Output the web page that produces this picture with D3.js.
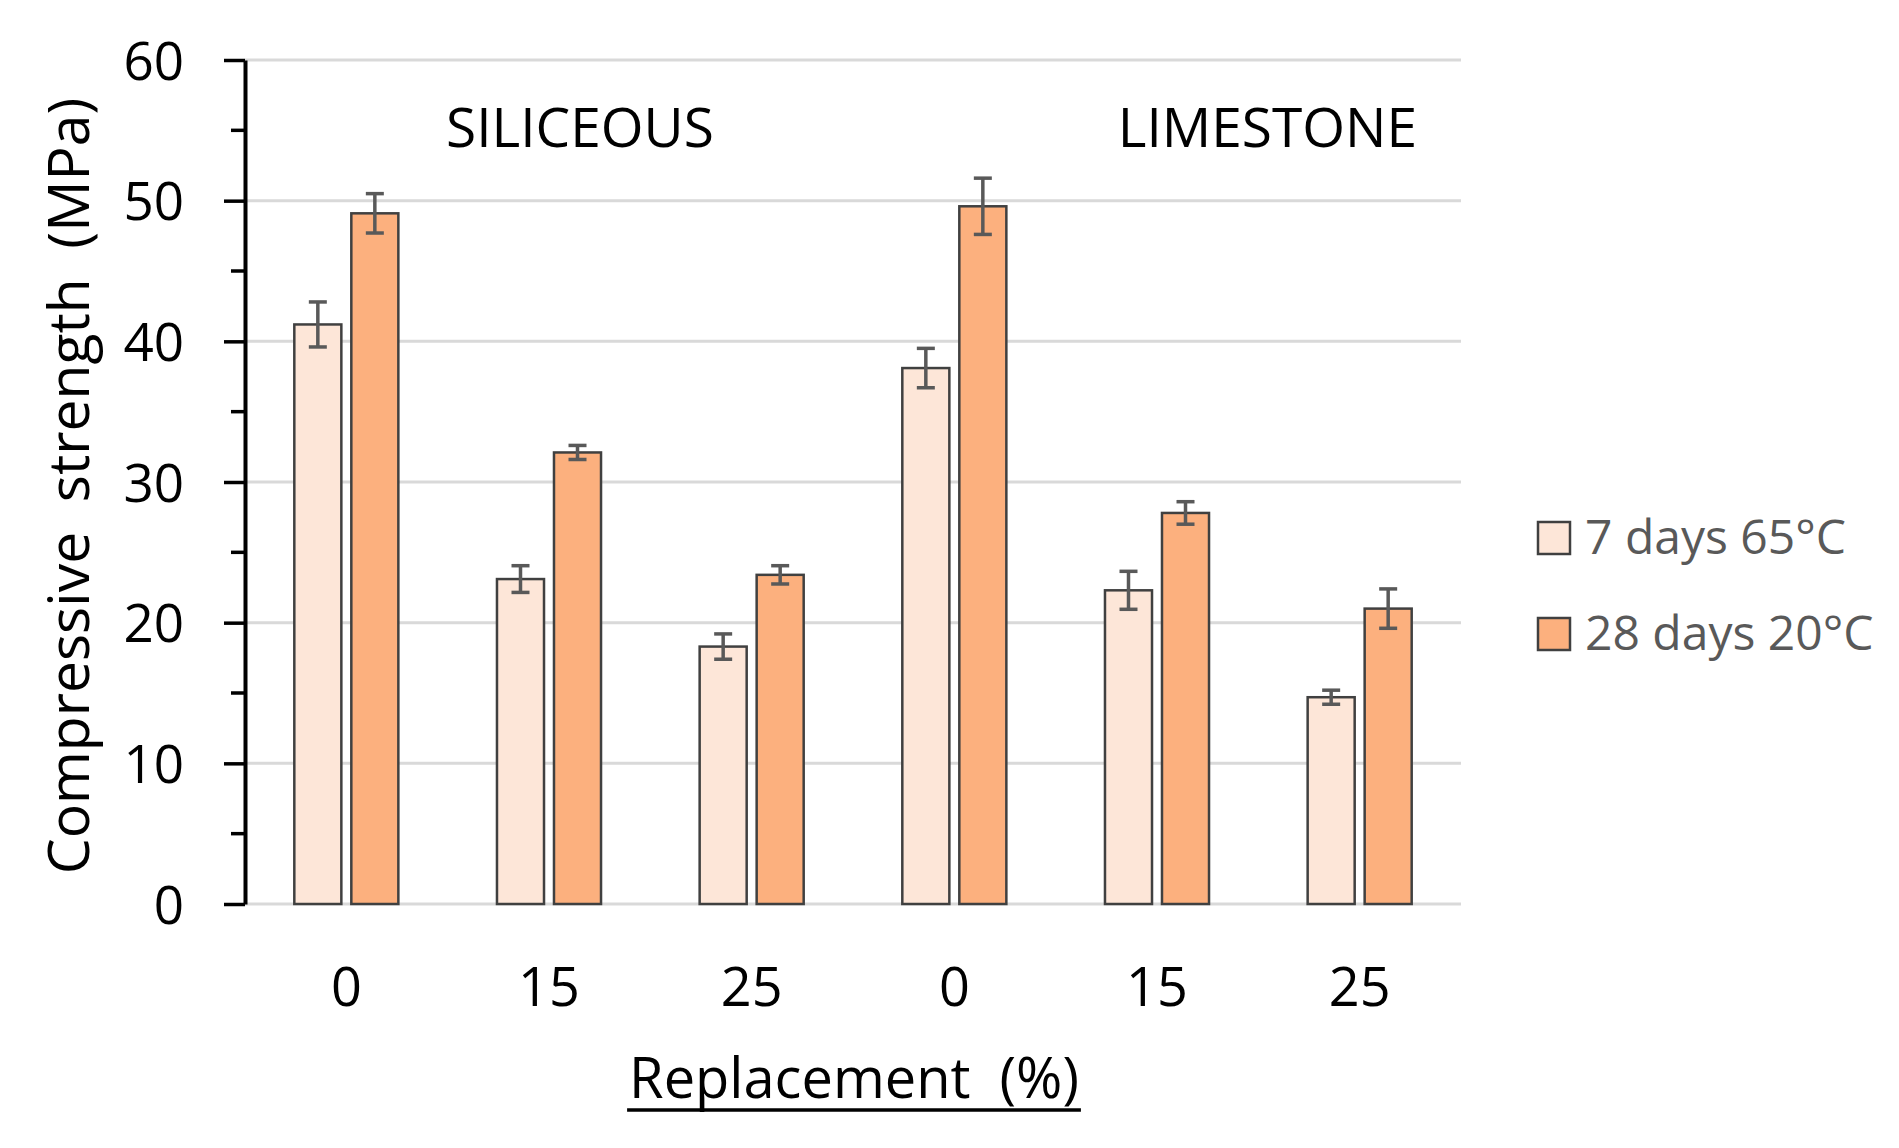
<!DOCTYPE html>
<html>
<head>
<meta charset="utf-8">
<script src="https://cdn.jsdelivr.net/npm/d3@7"></script>
<style>
  body { margin: 0; background: #fff; }
  text { font-family: "Open Sans", sans-serif; }
</style>
</head>
<body>
<div id="chart"></div>
<script>
// categories on the x axis (two aggregate types x three replacement levels)
const categories = ["SIL-0", "SIL-15", "SIL-25", "LIM-0", "LIM-15", "LIM-25"];
const tickLabels = ["0", "15", "25", "0", "15", "25"];
const groupLabels = ["SILICEOUS", "LIMESTONE"];
const series = ["7 days 65°C", "28 days 20°C"];

// compressive strength (MPa) and error bars
const values7d = [41.2, 23.1, 18.3, 38.1, 22.3, 14.7];
const errors7d = [1.6, 0.95, 0.9, 1.4, 1.35, 0.5];
const values28d = [49.1, 32.1, 23.4, 49.6, 27.8, 21.0];
const errors28d = [1.4, 0.5, 0.65, 2.0, 0.8, 1.4];

const yTicks = [0, 10, 20, 30, 40, 50, 60];
const colors = ["#fde6d8", "#fcb07e"];

const width = 1899, height = 1148;
const plot = { left: 245, right: 1461, top: 60, bottom: 904 };

const svg = d3.select("#chart").append("svg")
    .attr("width", width)
    .attr("height", height);

svg.append("rect").attr("width", width).attr("height", height).attr("fill", "#fff");

const x0 = d3.scaleBand()
    .domain(categories)
    .range([plot.left, plot.right])
    .padding(0);

const x1 = d3.scaleBand()
    .domain(series)
    .range([0, x0.bandwidth()])
    .paddingInner(0.175)
    .paddingOuter(0.865);

const y = d3.scaleLinear()
    .domain([0, 60])
    .range([plot.bottom, plot.top]);

// --- gridlines ---
svg.append("g")
    .selectAll("line")
    .data(yTicks)
    .join("line")
    .attr("x1", plot.left)
    .attr("x2", plot.right)
    .attr("y1", d => y(d))
    .attr("y2", d => y(d))
    .attr("stroke", "#d9d9d9")
    .attr("stroke-width", 3);

// --- bars ---
const rows = categories.map((c, i) => ({
  cat: c,
  items: [
    { s: series[0], v: values7d[i], e: errors7d[i], color: colors[0] },
    { s: series[1], v: values28d[i], e: errors28d[i], color: colors[1] }
  ]
}));

const grp = svg.append("g")
    .selectAll("g")
    .data(rows)
    .join("g")
    .attr("transform", d => `translate(${x0(d.cat)},0)`);

grp.selectAll("rect")
    .data(d => d.items)
    .join("rect")
    .attr("x", d => x1(d.s))
    .attr("width", x1.bandwidth())
    .attr("y", d => y(d.v))
    .attr("height", d => y(0) - y(d.v))
    .attr("fill", d => d.color)
    .attr("stroke", "#404040")
    .attr("stroke-width", 2.5);

// --- error bars ---
const capW = 9;
const eb = grp.selectAll("g.err")
    .data(d => d.items)
    .join("g")
    .attr("class", "err")
    .attr("stroke", "#595959")
    .attr("stroke-width", 3.5);

eb.append("line")
    .attr("x1", d => x1(d.s) + x1.bandwidth() / 2)
    .attr("x2", d => x1(d.s) + x1.bandwidth() / 2)
    .attr("y1", d => y(d.v + d.e))
    .attr("y2", d => y(d.v - d.e));
eb.append("line")
    .attr("x1", d => x1(d.s) + x1.bandwidth() / 2 - capW)
    .attr("x2", d => x1(d.s) + x1.bandwidth() / 2 + capW)
    .attr("y1", d => y(d.v + d.e))
    .attr("y2", d => y(d.v + d.e));
eb.append("line")
    .attr("x1", d => x1(d.s) + x1.bandwidth() / 2 - capW)
    .attr("x2", d => x1(d.s) + x1.bandwidth() / 2 + capW)
    .attr("y1", d => y(d.v - d.e))
    .attr("y2", d => y(d.v - d.e));

// --- y axis ---
const yAxis = svg.append("g")
    .attr("transform", `translate(${plot.left},0)`)
    .call(d3.axisLeft(y).tickValues(yTicks).tickSize(21).tickPadding(40).tickSizeOuter(0));
yAxis.select(".domain").attr("stroke", "#000").attr("stroke-width", 4);
yAxis.selectAll(".tick line").attr("stroke", "#000").attr("stroke-width", 3.5);
yAxis.selectAll(".tick text")
    .attr("fill", "#000")
    .style("font-size", "53px")
    .attr("dy", "0.36em");

// minor ticks every 5
svg.append("g")
    .selectAll("line")
    .data(d3.range(5, 60, 10))
    .join("line")
    .attr("x1", plot.left - 14)
    .attr("x2", plot.left)
    .attr("y1", d => y(d))
    .attr("y2", d => y(d))
    .attr("stroke", "#000")
    .attr("stroke-width", 3.5);

// --- x tick labels ---
svg.append("g")
    .selectAll("text")
    .data(categories)
    .join("text")
    .attr("x", d => x0(d) + x0.bandwidth() / 2)
    .attr("y", 1006)
    .attr("text-anchor", "middle")
    .style("font-size", "54px")
    .attr("fill", "#000")
    .text((d, i) => tickLabels[i]);

// --- group labels ---
svg.append("text")
    .attr("x", 446).attr("y", 147)
    .style("font-size", "55px")
    .attr("fill", "#000")
    .text(groupLabels[0]);
svg.append("text")
    .attr("x", 1417).attr("y", 147)
    .attr("text-anchor", "end")
    .style("font-size", "55px")
    .attr("fill", "#000")
    .text(groupLabels[1]);

// --- axis titles ---
svg.append("text")
    .attr("transform", `translate(89,${(plot.top + plot.bottom) / 2 + 4}) rotate(-90)`)
    .attr("text-anchor", "middle")
    .style("font-size", "57px")
    .style("white-space", "pre")
    .attr("fill", "#000")
    .text("Compressive  strength  (MPa)");

const xTitle = svg.append("text")
    .attr("x", (632 + 1076) / 2)
    .attr("y", 1098)
    .attr("text-anchor", "middle")
    .style("font-size", "56px")
    .style("white-space", "pre")
    .attr("fill", "#000")
    .text("Replacement  (%)");

// underline sits below the descenders
const tb = xTitle.node().getBBox();
svg.append("line")
    .attr("x1", tb.x - 2)
    .attr("x2", tb.x + tb.width + 2)
    .attr("y1", 1110)
    .attr("y2", 1110)
    .attr("stroke", "#000")
    .attr("stroke-width", 3.5);

// --- legend ---
const legend = svg.append("g")
    .selectAll("g")
    .data(series)
    .join("g")
    .attr("transform", (d, i) => `translate(1538,${522 + i * 96})`);
legend.append("rect")
    .attr("width", 32).attr("height", 32)
    .attr("fill", (d, i) => colors[i])
    .attr("stroke", "#404040")
    .attr("stroke-width", 2.5);
legend.append("text")
    .attr("x", 47).attr("y", 32)
    .style("font-size", "48px")
    .attr("fill", "#595959")
    .text(d => d);
</script>
</body>
</html>
